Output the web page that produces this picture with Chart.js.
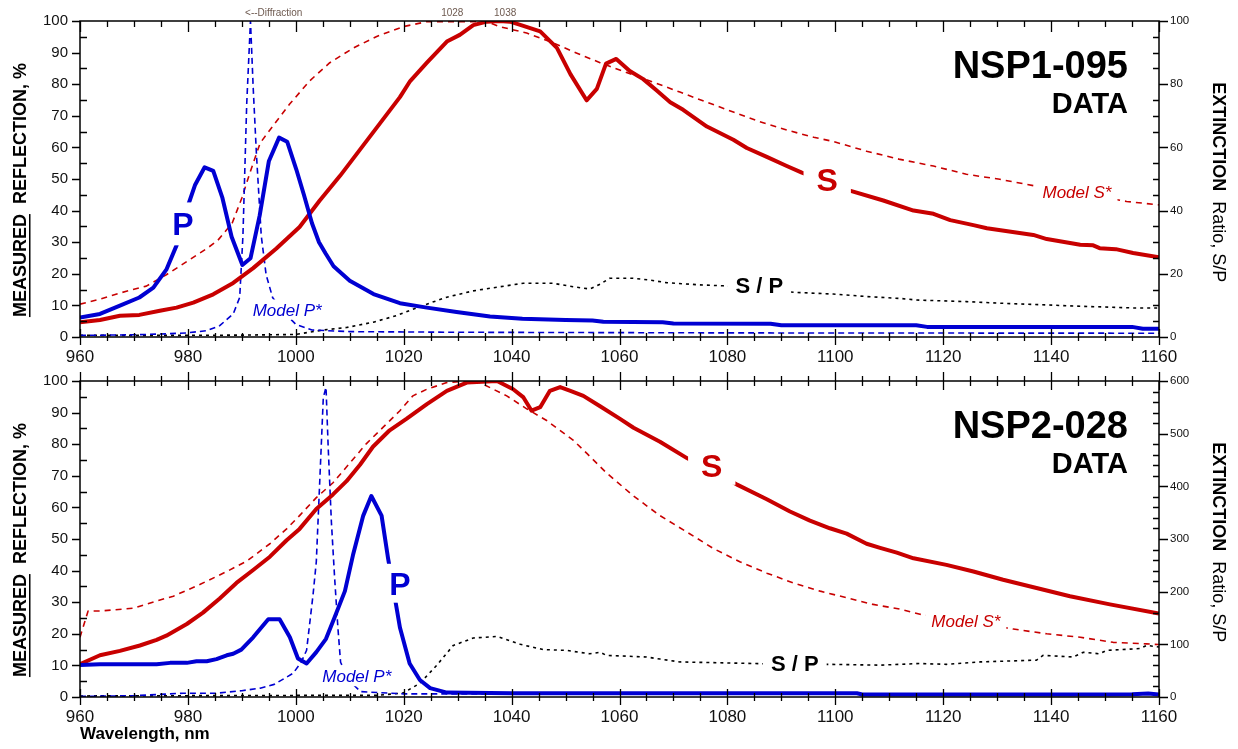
<!DOCTYPE html>
<html>
<head>
<meta charset="utf-8">
<script src="https://cdn.jsdelivr.net/npm/chart.js@4.4.1/dist/chart.umd.min.js"></script>
<style>
    body { margin: 0; background: #fff; }
    #wrap { position: relative; width: 1238px; height: 749px; }
    canvas { position: absolute; left: 0; }
    #topChart { top: 0; }
    #botChart { top: 360px; }
</style>
</head>
<body>
<div id="wrap">
    <canvas id="topChart" width="1238" height="365"></canvas>
    <canvas id="botChart" width="1238" height="389"></canvas>
</div>
<script>
// wavelength range, nm
var wlRange = [960, 1160];

// ---- NSP1-095 (top panel), [nm, value] ----
var nsp1P = [[960,6.2],[963.7,7.3],[967.4,9.9],[971,12.5],[973.6,15.6],[976,21.3],[977.9,29],[979.8,40.5],[981.3,48],
    [983.1,53.7],[984.7,52.6],[986.4,44],[988.1,31.7],[990.1,22.8],[991.6,24.9],[993.3,38.4],[995,55.6],[996.9,63.1],
    [998.4,61.8],[1000.1,53],[1001.5,45],[1003,36],[1004.3,30],[1005.5,26.5],[1007,22.4],[1010,17.8],[1014.4,13.6],
    [1019.3,10.7],[1024.3,9.3],[1029.8,7.9],[1036,6.5],[1042,5.8],[1050,5.4],[1055,5.2],[1057,4.8],[1068,4.7],
    [1070,4.3],[1088,4.2],[1090,3.7],[1115,3.7],[1117,3.2],[1155,3.2],[1157,2.6],[1160,2.6]];
var nsp1S = [[960,4.7],[963.7,5.4],[967.4,6.7],[971,7],[974.8,8.3],[977.9,9.3],[981,10.9],[984.7,13.5],[988.4,17.1],
    [992.1,21.8],[996.4,28],[1000.7,34.8],[1004.4,43.1],[1008.2,51],[1011.9,59.3],[1015.6,67.6],[1019.3,75.9],
    [1021.2,81],[1024.3,86.8],[1028,93.5],[1030.4,95.6],[1032.9,98.7],[1035.4,99.8],[1037.8,100],[1039.7,99.8],
    [1041.6,98.8],[1045.3,96.7],[1048.4,91.5],[1050.9,83.2],[1053.9,74.9],[1055.8,78.5],[1057.5,86.5],[1059.4,88],
    [1061.9,84.2],[1064.4,81.6],[1066.9,78],[1069.4,74.3],[1071.8,71.9],[1076.2,66.6],[1081.1,62.4],[1083.6,59.8],
    [1087.3,57],[1091,54.1],[1093.8,52],[1098,49.3],[1102.7,46.3],[1108.9,43.2],[1114.5,40],[1118.2,39],[1121.3,37],
    [1125.6,35.4],[1128.1,34.4],[1136.7,32.3],[1139.2,31],[1145.4,29.2],[1147.8,29],[1149,28.1],[1152,27.8],
    [1155.2,26.6],[1160,25.2]];
var nsp1ModelP = [[960,0.5],[970,0.7],[976,1],[979.8,1.3],[983.5,2],[985.9,3.6],[988.4,7.3],[989.6,12.5],[990.2,32],
    [990.9,73.7],[991.6,100],[992.1,79],[992.7,58],[993.6,32],[994.5,19.7],[995.7,12.5],[997.7,8],[1000,4],
    [1003,2.2],[1010,1.7],[1030,1.5],[1080,1.3],[1160,1.2]];
var nsp1ModelS = [[960,10.4],[963.7,12],[968.6,14.5],[972.3,16.1],[976,19.7],[979.8,23.9],[983.5,28],[985.5,30.5],
    [988.2,36],[990,44],[991.5,52],[993.4,61.4],[995.2,65.5],[998.9,73.8],[1002.6,81.1],[1006.3,86.8],[1010.7,91.5],
    [1015,95.1],[1019.9,98.2],[1024.3,99.8],[1035.4,99.8],[1037.8,98.2],[1042.8,96.2],[1047.1,93.5],[1052,89.9],
    [1056.4,86.8],[1061.3,83.7],[1066.3,80.6],[1071.2,77.5],[1076.2,74.3],[1081.1,71.2],[1086,68.1],[1091,65.5],
    [1096,63.2],[1099.6,61.9],[1105.8,58.8],[1112,56.2],[1118.2,54.1],[1124.3,51.5],[1130.5,49.9],[1136.7,47.9],
    [1146,45.2],[1154,42.9],[1160,41.8]];
var nsp1Ratio = [[960,0.5],[975,0.5],[990,0.6],[1000,0.8],[1005,2.2],[1009.4,3],[1014.4,4.7],[1018.7,6.8],
    [1023.6,10],[1028,12.6],[1032.9,14.6],[1037.8,15.9],[1042.2,17],[1047.7,17],[1051.4,15.9],[1054.5,15.2],
    [1056.4,16.7],[1058.2,18.6],[1062.5,18.6],[1065.7,18],[1068.7,17.2],[1074.9,16.5],[1079.2,16.2],[1086,15],
    [1092.8,14.1],[1099.6,13.6],[1105.8,12.8],[1112,12.2],[1115.1,11.7],[1124.3,11.2],[1130.5,10.7],[1136.7,10.3],
    [1146,9.7],[1155.2,9.2],[1160,9.2]];

// ---- NSP2-028 (bottom panel), [nm, value] ----
var nsp2P = [[960,10.1],[963.7,10.4],[974.2,10.4],[976.7,10.8],[979.8,10.8],[981.6,11.3],[983.5,11.3],[985.3,12],
    [987.2,13.2],[988.4,13.7],[989.9,15],[992.1,18.9],[994.9,24.6],[997,24.6],[998.9,18.9],[1000.4,12.2],[1002,10.6],
    [1003.8,14.2],[1005.6,18.4],[1007.2,25.2],[1009.1,33.5],[1010.6,44.9],[1012.5,57.4],[1014,63.6],[1015.9,57.4],
    [1017.1,43.9],[1018.2,33],[1019.3,22],[1021.1,10.6],[1023,5.4],[1024.9,2.8],[1028,1.4],[1040,1.2],[1104,1.2],
    [1105,0.8],[1150,0.8],[1155,0.9],[1158,1.1],[1160,0.8]];
var nsp2S = [[960,10.4],[963.7,13.2],[967.4,14.6],[971.1,16.3],[974.2,18.1],[976,19.4],[979.8,23.1],[982.8,26.7],
    [985.9,31.2],[989,36.1],[992.1,40.2],[995.2,44.4],[998.3,49.6],[1000.7,53.2],[1003.8,59.5],[1006.9,64.1],
    [1009.4,68.3],[1011.9,73.5],[1014.3,79.2],[1017.4,84.4],[1020.5,88],[1024.3,92.7],[1028,96.9],[1031.7,99.5],
    [1037.3,100],[1040.3,97.4],[1042.2,94.8],[1043.7,90.6],[1045.3,91.7],[1047.1,96.9],[1049,98.1],[1050.9,96.9],
    [1053.3,95.3],[1056.4,92],[1060.1,88],[1062.6,85.2],[1067.5,80.8],[1072.5,75.6],[1077,71.5],[1081.7,67.3],
    [1087.3,62.6],[1091.6,58.7],[1095.3,55.8],[1099,53.4],[1102.1,51.7],[1105.8,48.5],[1108.3,47.2],[1111.4,45.7],
    [1114.5,43.9],[1120.6,41.8],[1125.6,39.7],[1131.1,37.1],[1137.3,34.5],[1143.5,31.9],[1150.9,29.3],[1160,26.4]];
var nsp2ModelP = [[960,0.2],[969.9,0.4],[979.1,1.2],[985.3,1.2],[990,2],[993.4,2.8],[996,4],[999.5,7.5],[1001,11],
    [1002,14.8],[1003.2,32.4],[1003.8,42.8],[1004.4,66.7],[1005.1,94.8],[1005.6,98],[1006,79.2],[1006.6,55.3],
    [1007.2,37.6],[1007.8,22],[1008.3,11],[1010,5],[1012,1.7],[1020,1],[1040,1],[1100,0.9],[1160,0.9]];
var nsp2ModelS = [[960,18.9],[961.5,27.2],[963.7,27.2],[969.9,28.1],[974.2,30.4],[977.3,31.9],[982.2,35.6],
    [987.2,39.7],[990.9,43],[995.2,48.5],[998.3,53.2],[1000.7,57.4],[1003.8,63.1],[1006.9,67.8],[1010,74],
    [1013.1,80.2],[1016.2,85.4],[1019.3,90.6],[1021.7,95.3],[1024.3,97.4],[1028,99.5],[1031.7,100],[1034.1,99.5],
    [1039.1,95.3],[1042.8,91.2],[1046.5,87.5],[1051.4,81.3],[1054,77],[1057.6,70.9],[1062.6,63.6],[1067.5,57.4],
    [1072.5,52.2],[1077.4,47],[1082.3,42.8],[1087.3,39.2],[1092.2,36.1],[1097.2,33.5],[1102.1,31.4],[1107,29.3],
    [1112,27.8],[1115.7,26.2],[1124,24],[1133,21.5],[1139.2,20],[1145.4,18.9],[1151.5,17.3],[1157.7,16.8],[1160,16.6]];
var nsp2Ratio = [[960,2],[1000,3],[1015,3],[1019.9,7.5],[1023,26],[1026.1,60],[1029.2,98],[1032.9,112],[1037.3,115],
    [1041.6,100],[1045.9,90],[1050.2,88.5],[1054.5,82],[1056.4,85],[1057.6,79],[1065,76],[1067.5,72],[1071.2,66.6],
    [1084.8,63.6],[1092,62],[1099,62],[1108.3,60.5],[1115.7,63.6],[1120.6,62],[1126.8,66.6],[1137.3,70],[1138.5,79],
    [1144.1,76],[1146,85],[1149,82],[1150.3,88.5],[1156.5,92],[1157.7,98],[1160,95]];

var FONT = '"Liberation Sans", Arial, Helvetica, sans-serif';
var RED = '#c80000', BLUE = '#0000d2';

function toXY(arr) {
    return arr.map(function (p) { return {x: p[0], y: p[1]}; });
}

function plain(v) {
    return String(v);
}

function series(label, pts, color, width, dash, axis) {
    return {
        label: label,
        data: toXY(pts),
        borderColor: color,
        borderWidth: width,
        borderDash: dash,
        yAxisID: axis,
        pointRadius: 0,
        tension: 0,
        fill: false,
        borderJoinStyle: 'round'
    };
}

// labels in the plot, tick marks, frame and axis titles
var extras = {
    id: 'extras',
    afterDatasetsDraw: function (chart, args, o) {
        var ctx = chart.ctx, xs = chart.scales.x, ys = chart.scales.y;
        o.labels.forEach(function (l) {
            ctx.save();
            ctx.font = l.font + ' ' + FONT;
            var w = ctx.measureText(l.text).width;
            var cap = l.size * 0.716;
            var px = xs.getPixelForValue(l.x), py = ys.getPixelForValue(l.y);
            ctx.fillStyle = '#fff';
            ctx.fillRect(px - w / 2 - l.padX, py - cap / 2 - l.padY, w + 2 * l.padX, cap + 2 * l.padY);
            ctx.fillStyle = l.color;
            ctx.textAlign = 'center';
            ctx.textBaseline = 'alphabetic';
            ctx.fillText(l.text, px, py + cap / 2);
            ctx.restore();
        });
    },
    afterDraw: function (chart, args, o) {
        var ctx = chart.ctx, a = chart.chartArea;
        var xs = chart.scales.x, ys = chart.scales.y, rs = chart.scales.y2;
        var v, p, d, major;
        ctx.save();
        ctx.strokeStyle = '#000';
        ctx.lineWidth = 1.5;
        ctx.strokeRect(a.left, a.top, a.right - a.left, a.bottom - a.top);
        ctx.lineWidth = 1.3;
        ctx.beginPath();
        for (v = xs.min; v <= xs.max; v += 5) {
            p = Math.round(xs.getPixelForValue(v)) + 0.5;
            major = v % 20 === 0;
            d = major ? 8 : 4;
            ctx.moveTo(p, a.bottom - d); ctx.lineTo(p, a.bottom + d);
            if (o.topCross) {
                d = major ? 9 : 5;
                ctx.moveTo(p, a.top - d); ctx.lineTo(p, a.top + d);
            } else {
                ctx.moveTo(p, a.top); ctx.lineTo(p, a.top + (major ? 11 : 6));
            }
        }
        for (v = ys.min; v <= ys.max; v += 5) {
            p = Math.round(ys.getPixelForValue(v)) + 0.5;
            if (v % 10 === 0) { ctx.moveTo(a.left - 8, p); ctx.lineTo(a.left, p); }
            else { ctx.moveTo(a.left, p); ctx.lineTo(a.left + 7, p); }
        }
        for (v = rs.min; v <= rs.max; v += o.ratioMinor) {
            p = Math.round(rs.getPixelForValue(v)) + 0.5;
            if (v % o.ratioMajor === 0) { ctx.moveTo(a.right, p); ctx.lineTo(a.right + 9, p); }
            else { ctx.moveTo(a.right - 6, p); ctx.lineTo(a.right, p); }
        }
        ctx.stroke();

        // sample name
        ctx.fillStyle = '#000';
        ctx.textAlign = 'right';
        ctx.textBaseline = 'alphabetic';
        ctx.font = 'bold 38px ' + FONT;
        ctx.fillText(o.sample, a.right - 31, a.top + 57);
        ctx.font = 'bold 29px ' + FONT;
        ctx.fillText('DATA', a.right - 31, a.top + 92);

        // notes above the top axis
        (o.notes || []).forEach(function (n) {
            ctx.font = '10px ' + FONT;
            ctx.fillStyle = '#6e5a50';
            ctx.textAlign = n.align;
            ctx.textBaseline = 'middle';
            ctx.fillText(n.text, xs.getPixelForValue(n.x), a.top - 8);
        });

        // left title
        var h = a.bottom - a.top;
        ctx.save();
        ctx.translate(21, a.top + h * 0.535);
        ctx.rotate(-Math.PI / 2);
        ctx.font = 'bold 18px ' + FONT;
        ctx.fillStyle = '#000';
        ctx.textBaseline = 'middle';
        ctx.textAlign = 'left';
        var t1 = 'MEASURED', t2 = '  REFLECTION, %';
        var w1 = ctx.measureText(t1).width, w2 = ctx.measureText(t2).width;
        var x0 = -(w1 + w2) / 2;
        ctx.fillText(t1, x0, 0);
        ctx.fillText(t2, x0 + w1, 0);
        ctx.fillRect(x0, 8, w1, 1.5);
        ctx.restore();

        // right title
        ctx.save();
        ctx.translate(1218, a.top + h * 0.51);
        ctx.rotate(Math.PI / 2);
        ctx.fillStyle = '#000';
        ctx.textBaseline = 'middle';
        ctx.textAlign = 'left';
        ctx.font = 'bold 18px ' + FONT;
        var r1 = 'EXTINCTION';
        var q1 = ctx.measureText(r1).width;
        ctx.font = '18px ' + FONT;
        var r2 = '  Ratio, S/P';
        var q2 = ctx.measureText(r2).width;
        ctx.font = 'bold 18px ' + FONT;
        ctx.fillText(r1, -(q1 + q2) / 2, 0);
        ctx.font = '18px ' + FONT;
        ctx.fillText(r2, -(q1 + q2) / 2 + q1, 0);
        ctx.restore();

        ctx.restore();
    }
};

function makePanel(canvasId, p) {
    var H = document.getElementById(canvasId).height;
    return new Chart(document.getElementById(canvasId), {
        type: 'line',
        data: {
            datasets: [
                series('P', p.P, BLUE, 4, [], 'y'),
                series('S', p.S, RED, 4, [], 'y'),
                series('Model P*', p.modelP, BLUE, 1.6, [6, 4], 'y'),
                series('Model S*', p.modelS, RED, 1.6, [6, 5], 'y'),
                series('S / P', p.ratio, '#000', 1.6, [3, 4], 'y2')
            ]
        },
        plugins: [extras],
        options: {
            responsive: false,
            animation: false,
            events: [],
            layout: {padding: {top: p.top, left: 0, right: 0, bottom: 0}},
            plugins: {
                legend: {display: false},
                tooltip: {enabled: false},
                extras: {
                    labels: p.labels,
                    sample: p.sample,
                    notes: p.notes,
                    topCross: p.topCross,
                    ratioMinor: p.ratioMinor,
                    ratioMajor: p.ratioMajor
                }
            },
            scales: {
                x: {
                    type: 'linear',
                    position: 'bottom',
                    min: wlRange[0],
                    max: wlRange[1],
                    grid: {display: false, drawTicks: false},
                    border: {display: false},
                    ticks: {stepSize: 20, padding: 10, color: '#111', font: {family: FONT, size: 17}, maxRotation: 0, callback: plain},
                    title: {
                        display: !!p.xTitle,
                        text: p.xTitle || '',
                        align: 'start',
                        color: '#000',
                        font: {family: FONT, size: 17, weight: 'bold'},
                        padding: {top: 0, bottom: 4}
                    },
                    afterFit: function (s) { s.height = H - 337; }
                },
                y: {
                    position: 'left',
                    min: 0,
                    max: 100,
                    grid: {display: false, drawTicks: false},
                    border: {display: false},
                    ticks: {stepSize: 10, padding: 12, color: '#111', font: {family: FONT, size: 15}, callback: plain},
                    afterFit: function (s) { s.width = 80; }
                },
                y2: {
                    position: 'right',
                    min: 0,
                    max: p.ratioMax,
                    grid: {display: false, drawTicks: false},
                    border: {display: false},
                    ticks: {stepSize: p.ratioMajor, padding: 11, color: '#111', font: {family: FONT, size: 11.5}, callback: plain},
                    afterFit: function (s) { s.width = 79; }
                }
            }
        }
    });
}

makePanel('topChart', {
    P: nsp1P, S: nsp1S, modelP: nsp1ModelP, modelS: nsp1ModelS, ratio: nsp1Ratio,
    sample: 'NSP1-095', top: 16, topCross: false,
    ratioMax: 100, ratioMajor: 20, ratioMinor: 5,
    notes: [
        {text: '<--Diffraction', x: 990.6, align: 'left'},
        {text: '1028', x: 1029, align: 'center'},
        {text: '1038', x: 1038.8, align: 'center'}
    ],
    labels: [
        {text: 'P', x: 979.1, y: 35.8, font: 'bold 32px', size: 32, color: BLUE, padX: 10, padY: 10},
        {text: 'S', x: 1098.5, y: 49.8, font: 'bold 32px', size: 32, color: RED, padX: 13, padY: 8},
        {text: 'S / P', x: 1085.9, y: 16.5, font: 'bold 22px', size: 22, color: '#000', padX: 8, padY: 4},
        {text: 'Model P*', x: 998.4, y: 8.7, font: 'italic 17px', size: 17, color: BLUE, padX: 5, padY: 4},
        {text: 'Model S*', x: 1144.8, y: 45.8, font: 'italic 17px', size: 17, color: RED, padX: 6, padY: 4}
    ]
});

makePanel('botChart', {
    P: nsp2P, S: nsp2S, modelP: nsp2ModelP, modelS: nsp2ModelS, ratio: nsp2Ratio,
    sample: 'NSP2-028', top: 17, topCross: true,
    ratioMax: 600, ratioMajor: 100, ratioMinor: 20,
    xTitle: 'Wavelength, nm',
    labels: [
        {text: 'P', x: 1019.3, y: 36, font: 'bold 32px', size: 32, color: BLUE, padX: 10, padY: 8},
        {text: 'S', x: 1077.1, y: 73.3, font: 'bold 32px', size: 32, color: RED, padX: 13, padY: 8},
        {text: 'S / P', x: 1092.5, y: 10.7, font: 'bold 22px', size: 22, color: '#000', padX: 8, padY: 4},
        {text: 'Model P*', x: 1011.3, y: 6.6, font: 'italic 17px', size: 17, color: BLUE, padX: 5, padY: 4},
        {text: 'Model S*', x: 1124.2, y: 24.1, font: 'italic 17px', size: 17, color: RED, padX: 6, padY: 4}
    ]
});
</script>
</body>
</html>
